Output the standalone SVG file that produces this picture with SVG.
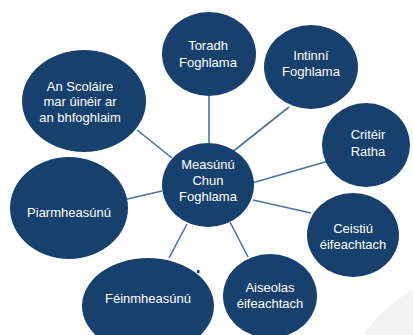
<svg xmlns="http://www.w3.org/2000/svg" width="413" height="335" viewBox="0 0 413 335">
<style>
.n{fill:#17416c}
.t{fill:#ffffff;font-family:"Liberation Sans",Arial,sans-serif;font-size:13px;text-anchor:middle}
.c line{stroke:#4a72a8;stroke-width:1.6}
</style>
<rect width="413" height="335" fill="#ffffff"/>
<circle cx="480" cy="410" r="138" fill="#f2f2f2"/>
<g class="c" id="connectors">
<line x1="137" y1="130" x2="172" y2="158"/>
<line x1="209" y1="96" x2="209" y2="143"/>
<line x1="289" y1="107" x2="231" y2="153"/>
<line x1="339" y1="158" x2="252" y2="183"/>
<line x1="253" y1="200" x2="311" y2="213"/>
<line x1="230" y1="222" x2="248" y2="257"/>
<line x1="187" y1="224" x2="169" y2="258"/>
<line x1="123" y1="200" x2="162" y2="191"/>
</g>
<g id="center"><ellipse class="n" cx="208" cy="185" rx="46" ry="42"/>
<text class="t" x="208" y="169">Measúnú</text><text class="t" x="208" y="185">Chun</text><text class="t" x="208" y="201">Foghlama</text></g>
<g id="toradh"><ellipse class="n" cx="209" cy="54" rx="47" ry="42"/>
<text class="t" x="208" y="50">Toradh</text><text class="t" x="208" y="67">Foghlama</text></g>
<g id="intinni"><ellipse class="n" cx="311" cy="67" rx="47" ry="42"/>
<text class="t" x="311" y="60">Intinní</text><text class="t" x="311" y="76">Foghlama</text></g>
<g id="criteir"><ellipse class="n" cx="366" cy="145" rx="44" ry="42"/>
<text class="t" x="368" y="139">Critéir</text><text class="t" x="368" y="156">Ratha</text></g>
<g id="ceistiu"><ellipse class="n" cx="353" cy="235" rx="46" ry="42"/>
<text class="t" x="353" y="233">Ceistiú</text><text class="t" x="353" y="249">éifeachtach</text></g>
<g id="aiseolas"><ellipse class="n" cx="270" cy="296" rx="47" ry="42"/>
<text class="t" x="270" y="292">Aiseolas</text><text class="t" x="270" y="308">éifeachtach</text></g>
<g id="feinmheasunu"><ellipse class="n" cx="148" cy="306" rx="66" ry="48"/>
<text class="t" x="148" y="303">Féinmheasúnú</text>
<rect x="197" y="270" width="2.5" height="3" fill="#17416c"/></g>
<g id="piarmheasunu"><ellipse class="n" cx="69" cy="208" rx="59" ry="51"/>
<text class="t" x="69" y="217">Piarmheasúnú</text></g>
<g id="scolaire"><ellipse class="n" cx="84" cy="101" rx="62" ry="51"/>
<text class="t" x="80" y="91">An Scoláire</text><text class="t" x="80" y="106">mar úinéir ar</text><text class="t" x="80" y="122">an bhfoghlaim</text></g>
</svg>
